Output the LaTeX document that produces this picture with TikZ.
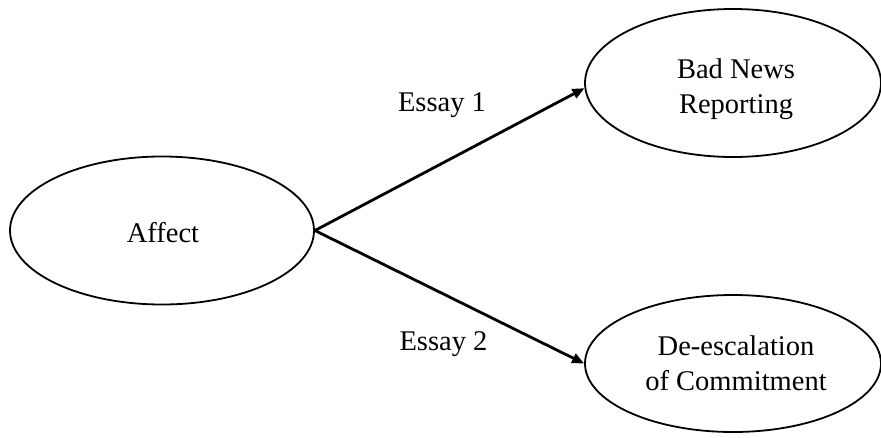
\documentclass[tikz,border=0pt]{standalone}
\usepackage{fontspec}
\setmainfont{Liberation Serif}
\usetikzlibrary{shapes.geometric,arrows.meta}
\begin{document}
\begin{tikzpicture}[x=1pt,y=-1pt,
  construct/.style={ellipse,draw=black,line width=1.8pt,inner sep=0pt},
  caption/.style={inner sep=0pt,align=center,font=\fontsize{28.5}{35}\selectfont},
  path/.style={line width=2.8pt,-{Triangle[length=12pt,width=10pt]}}]
  \useasboundingbox (0,0) rectangle (881,437);

  % constructs
  \node[construct,minimum width=304pt,minimum height=148pt] (affect) at (162,230.5) {};
  \node[construct,minimum width=296pt,minimum height=148pt] (bad) at (733,83) {};
  \node[construct,minimum width=296pt,minimum height=137pt] (deesc) at (733,363.5) {};

  % construct names
  \node[caption] (affectT) at (163,233) {Affect};
  \node[caption] (badT) at (736,89.5) {Bad News\\Reporting};
  \node[caption] (deescT) at (736,363) {De-escalation\\of Commitment};

  % hypothesised paths
  \draw[path] (affect.east) -- (bad.182);
  \draw[path] (affect.east) -- (deesc.west);

  % path labels
  \node[caption] (e1) at (442,105.5) {Essay 1};
  \node[caption] (e2) at (443.5,344.5) {Essay 2};
\end{tikzpicture}
\end{document}
